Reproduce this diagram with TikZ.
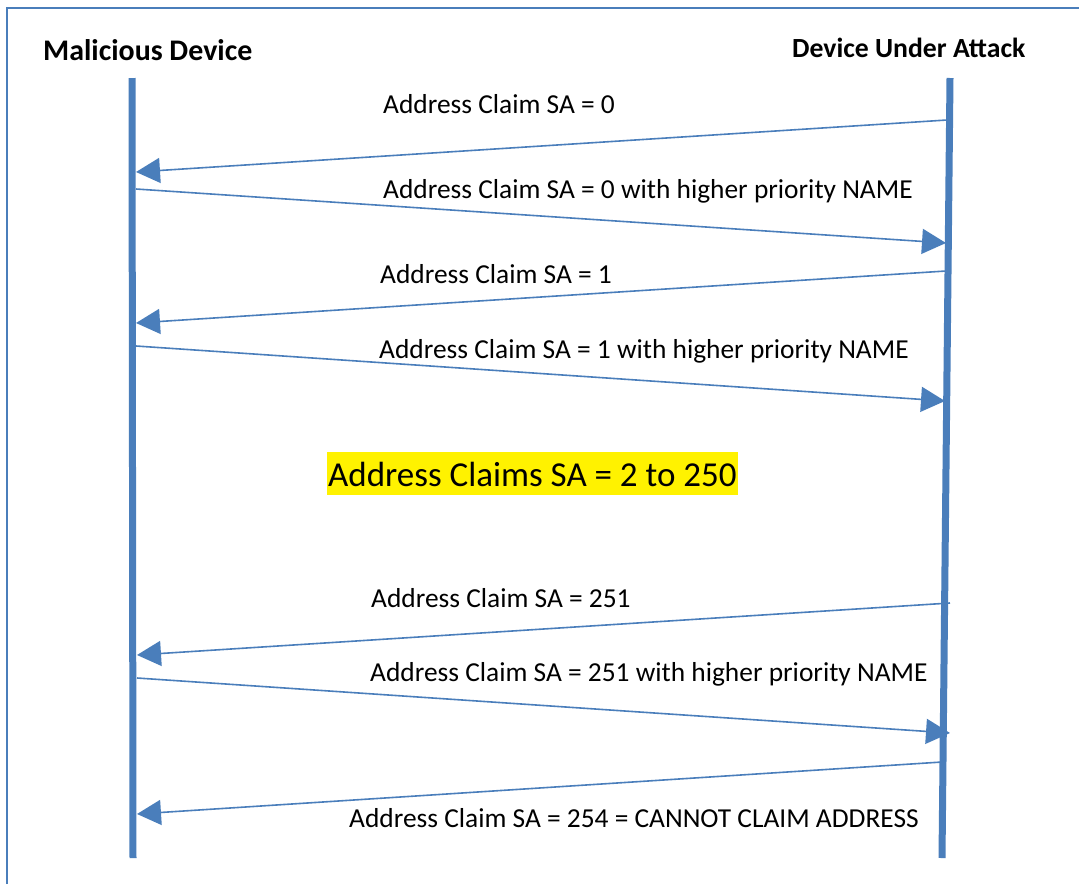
\documentclass[tikz,border=0pt]{standalone}
\usepackage{fontspec}
\setmainfont{Carlito}
\usetikzlibrary{arrows.meta}
\definecolor{lineblue}{HTML}{4A7EBB}
\begin{document}
\begin{tikzpicture}[x=1pt,y=-1pt,
  lifeline/.style={draw=lineblue,line width=7pt},
  msg/.style={draw=lineblue,line width=1.6pt,-{Triangle[length=24pt,width=25pt]}},
  lbl/.style={anchor=base west,inner sep=0pt,font=\fontsize{27.4}{32}\selectfont},
  hdr/.style={anchor=base west,inner sep=0pt,font=\fontsize{28}{32}\selectfont\bfseries}]
\useasboundingbox (0,0) rectangle (1079,884);
% frame
\draw[lineblue,line width=1.5pt] (7,884) -- (7,8) -- (1079,8);
% headers
\node[hdr,font=\fontsize{29.9}{34}\selectfont\bfseries] (hl) at (43,60) {Malicious Device};
\node[hdr,font=\fontsize{27.7}{32}\selectfont\bfseries] (hr) at (792,57) {Device Under Attack};
% lifelines
\coordinate (lt) at (132,78); \coordinate (lb) at (133,858);
\coordinate (rt) at (950,78); \coordinate (rb) at (942,858);
\draw[lifeline] (lt) -- (lb);
\draw[lifeline] (rt) -- (rb);
% endpoints
\coordinate (a1s) at (947,120); \coordinate (a1e) at (136,172);
\coordinate (a2s) at (136,189); \coordinate (a2e) at (946,243);
\coordinate (a3s) at (946,271); \coordinate (a3e) at (136,323);
\coordinate (a4s) at (136,346); \coordinate (a4e) at (945,401);
\coordinate (a6s) at (950,603); \coordinate (a6e) at (137,655);
\coordinate (a7s) at (137,678); \coordinate (a7e) at (950,733);
\coordinate (a8s) at (942,762); \coordinate (a8e) at (137,814);
\draw[msg] (a1s) -- (a1e);
\draw[msg] (a2s) -- (a2e);
\draw[msg] (a3s) -- (a3e);
\draw[msg] (a4s) -- (a4e);
\draw[msg] (a6s) -- (a6e);
\draw[msg] (a7s) -- (a7e);
\draw[msg] (a8s) -- (a8e);
% labels
\node[lbl] (l1) at (383,113) {Address Claim SA = 0};
\node[lbl] (l2) at (383,198) {Address Claim SA = 0 with higher priority NAME};
\node[lbl] (l3) at (380,283) {Address Claim SA = 1};
\node[lbl] (l4) at (379,358) {Address Claim SA = 1 with higher priority NAME};
\node[lbl] (l6) at (371,607) {Address Claim SA = 251};
\node[lbl] (l7) at (370,681) {Address Claim SA = 251 with higher priority NAME};
\node[lbl] (l8) at (349,827) {Address Claim SA = 254 = CANNOT CLAIM ADDRESS};
% highlight
\fill[yellow] (327,452) rectangle (738,495);
\node[anchor=base west,inner sep=0pt,font=\fontsize{35}{40}\selectfont] (hl5) at (328,486) {Address Claims SA = 2 to 250};
\end{tikzpicture}
\end{document}
